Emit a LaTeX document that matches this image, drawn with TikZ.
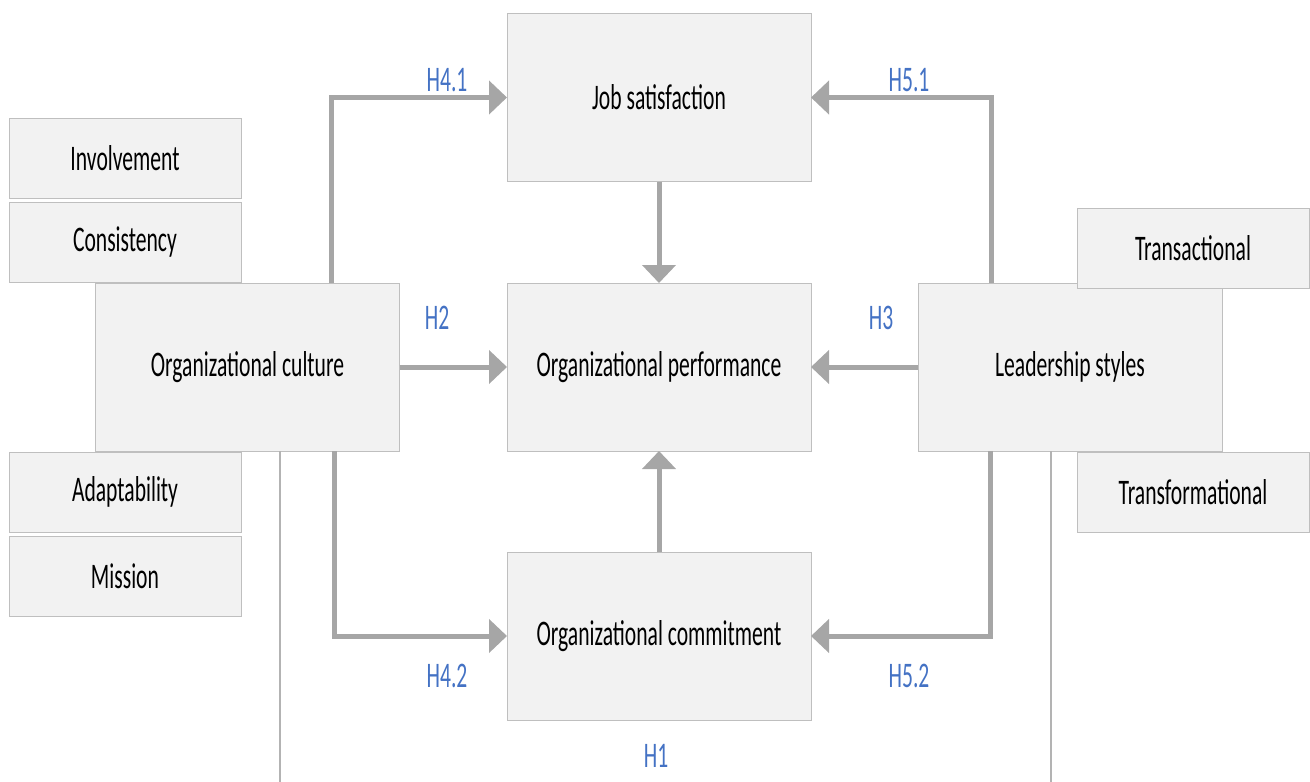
\documentclass[tikz,border=0pt]{standalone}
\usepackage{fontspec}
\setmainfont[FakeStretch=0.6]{Carlito}
\usepackage{tikz}
\usetikzlibrary{arrows.meta}
\definecolor{boxfill}{HTML}{F2F2F2}
\definecolor{boxline}{HTML}{BFBFBF}
\definecolor{arrowgray}{HTML}{A6A6A6}
\definecolor{hypblue}{HTML}{4472C4}
\tikzset{
  mainbox/.style={draw=boxline, fill=boxfill, line width=1pt, minimum width=304pt,
    minimum height=168pt, inner sep=0pt, outer sep=0pt, font=\fontsize{36}{40}\selectfont},
  subbox/.style={mainbox, minimum width=232pt, minimum height=80pt},
  link/.style={draw=arrowgray, line width=5pt, -{Triangle[length=18pt,width=33pt]}},
  plainline/.style={draw=arrowgray!85, line width=2.5pt},
  hyp/.style={text=hypblue, inner sep=0pt, font=\fontsize{36}{40}\selectfont},
}

\begin{document}
\begin{tikzpicture}[x=1pt,y=-1pt]
\useasboundingbox (0,0) rectangle (1310,782);

% main constructs
\node[mainbox] (job) at (659,97.5) {Job satisfaction};
\node[mainbox] (perf) at (659,367) {Organizational performance};
\node[mainbox] (commit) at (659,636) {Organizational commitment};
\node[mainbox] (culture) at (247.5,367) {Organizational culture};
\node[mainbox] (lead) at (1070,367) {Leadership styles};

% dimensions
\node[subbox] (involve) at (125,158) {Involvement};
\node[subbox] (consist) at (125,242) {Consistency};
\node[subbox] (adapt) at (125,492) {Adaptability};
\node[subbox] (mission) at (125,576) {Mission};
\node[subbox] (transact) at (1193,248.5) {Transactional};
\node[subbox] (transform) at (1193,492) {Transformational};

% hypotheses
\draw[link] ([xshift=83.5pt]culture.north) |- (job.west);
\draw[link] (culture.east) -- (perf.west);
\draw[link] ([xshift=86.5pt]culture.south) |- (commit.west);
\draw[link] ([xshift=-79pt]lead.north) |- (job.east);
\draw[link] (lead.west) -- (perf.east);
\draw[link] ([xshift=-80pt]lead.south) |- (commit.east);
\draw[link] (job.south) -- (perf.north);
\draw[link] (commit.north) -- (perf.south);

\coordinate (h1left) at (280,782);
\coordinate (h1right) at (1051,782);
\draw[plainline] (culture.south -| h1left) -- (h1left);
\draw[plainline] (lead.south -| h1right) -- (h1right);

\node[hyp] (h41) at (447,80) {H4.1};
\node[hyp] (h2) at (437,318) {H2};
\node[hyp] (h42) at (447,676) {H4.2};
\node[hyp] (h51) at (909,80) {H5.1};
\node[hyp] (h3) at (881,318) {H3};
\node[hyp] (h52) at (909,676) {H5.2};
\node[hyp] (h1) at (656,756) {H1};
\end{tikzpicture}
\end{document}
